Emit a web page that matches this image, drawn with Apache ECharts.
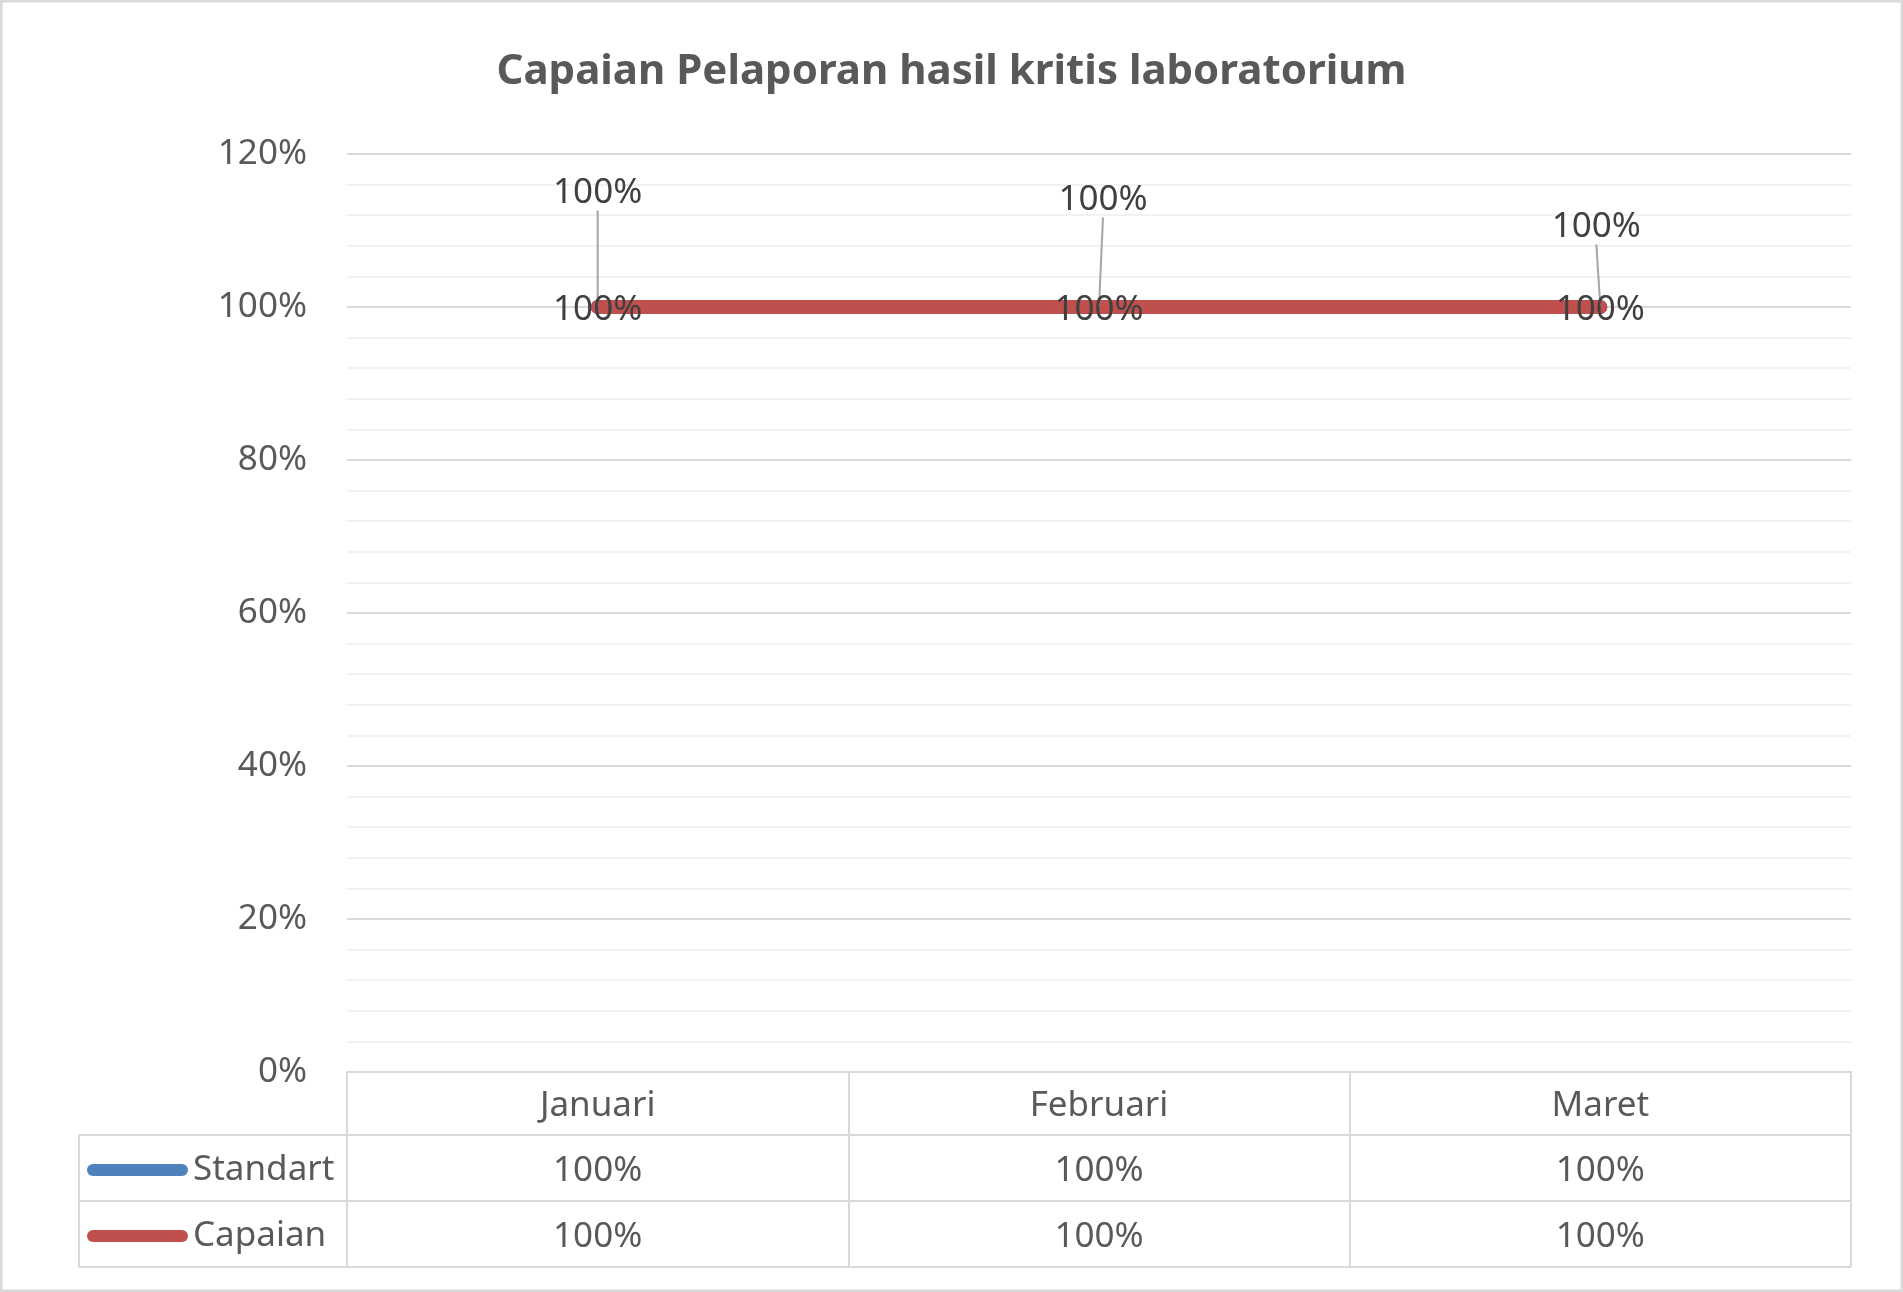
<!DOCTYPE html>
<html lang="en">
<head>
    <meta charset="UTF-8">
    <title>Capaian Pelaporan hasil kritis laboratorium</title>
    <style>
        html, body { margin: 0; padding: 0; background: #fff; }
        #chart { width: 1903px; height: 1292px; }
    </style>
    <script src="https://cdn.jsdelivr.net/npm/echarts/dist/echarts.min.js"></script>
</head>
<body>
    <div id="chart"></div>
    <script>
        var months = ['Januari', 'Februari', 'Maret'];
        var standart = [1, 1, 1];
        var capaian = [1, 1, 1];

        // offsets of the Standart labels (pulled up with a leader line)
        var labelDx = [0, 4, -4];
        var labelDy = [-114, -107, -80];

        function pct(v) { return Math.round(v * 100) + '%'; }

        var font = 'Noto Sans';
        var W = 1903, H = 1292;
        var gridLeft = 347, gridRight = 52, gridTop = 154, gridBottom = 220;
        var headH = 63, rowH = 66;
        var tableTop = H - gridBottom;
        var legLeft = 79;
        var gridEnd = W - gridRight;
        var lineCol = '#d9d9d9';

        function hline(x1, x2, y) {
            return { type: 'line', shape: { x1: x1, y1: y, x2: x2, y2: y }, style: { stroke: lineCol, lineWidth: 2 } };
        }

        var pill = 'path://M6,0 H95 A6,6 0 0 1 95,12 H6 A6,6 0 0 1 6,0 Z';

        var chart = echarts.init(document.getElementById('chart'));
        chart.setOption({
            animation: false,
            backgroundColor: '#fff',
            title: {
                text: 'Capaian Pelaporan hasil kritis laboratorium',
                left: 'center',
                top: 42,
                textStyle: { fontFamily: font, fontSize: 42, fontWeight: 'bold', color: '#595959', lineHeight: 50 }
            },
            legend: [
                {
                    left: 82, top: tableTop + headH + rowH / 2 - 23,
                    selectedMode: false,
                    itemWidth: 101, itemHeight: 12,
                    textStyle: { fontFamily: font, fontSize: 35, color: '#595959', lineHeight: 40 },
                    data: [{ name: 'Standart', icon: pill }]
                },
                {
                    left: 82, top: tableTop + headH + rowH * 1.5 - 23,
                    selectedMode: false,
                    itemWidth: 101, itemHeight: 12,
                    textStyle: { fontFamily: font, fontSize: 35, color: '#595959', lineHeight: 40 },
                    data: [{ name: 'Capaian', icon: pill }]
                }
            ],
            grid: { left: gridLeft, right: gridRight, top: gridTop, bottom: gridBottom },
            xAxis: [
                {
                    type: 'category',
                    data: months,
                    boundaryGap: true,
                    axisLine: { lineStyle: { color: lineCol, width: 2 } },
                    axisTick: { show: true, interval: 0, length: headH + rowH * 2, lineStyle: { color: lineCol, width: 2 } },
                    axisLabel: { fontFamily: font, fontSize: 35, color: '#595959', margin: 17 }
                },
                {
                    type: 'category',
                    data: months,
                    position: 'bottom',
                    offset: headH,
                    axisLine: { lineStyle: { color: lineCol, width: 2 } },
                    axisTick: { show: false },
                    axisLabel: {
                        fontFamily: font, fontSize: 35, color: '#595959', margin: 19,
                        formatter: function (v, i) { return pct(standart[i]); }
                    }
                },
                {
                    type: 'category',
                    data: months,
                    position: 'bottom',
                    offset: headH + rowH,
                    axisLine: { lineStyle: { color: lineCol, width: 2 } },
                    axisTick: { show: false },
                    axisLabel: {
                        fontFamily: font, fontSize: 35, color: '#595959', margin: 19,
                        formatter: function (v, i) { return pct(capaian[i]); }
                    }
                }
            ],
            yAxis: {
                type: 'value',
                min: 0,
                max: 1.2,
                interval: 0.2,
                axisLine: { show: false },
                axisTick: { show: false },
                axisLabel: { fontFamily: font, fontSize: 35, color: '#595959', margin: 40, formatter: pct },
                splitLine: { lineStyle: { color: lineCol, width: 2 } },
                minorTick: { show: false, splitNumber: 5 },
                minorSplitLine: { show: true, lineStyle: { color: '#f2f2f2', width: 2 } }
            },
            series: [
                {
                    name: 'Standart',
                    type: 'line',
                    data: standart,
                    color: '#4F81BD',
                    symbol: 'circle',
                    symbolSize: 2,
                    lineStyle: { width: 14, cap: 'round', color: '#4F81BD' },
                    label: {
                        show: true, position: 'inside',
                        fontFamily: font, fontSize: 35, color: '#404040',
                        formatter: function (p) { return pct(p.value); }
                    },
                    labelLine: { show: true, lineStyle: { color: '#a6a6a6', width: 2 } },
                    labelLayout: function (p) {
                        return { dx: labelDx[p.dataIndex], dy: labelDy[p.dataIndex] };
                    }
                },
                {
                    name: 'Capaian',
                    type: 'line',
                    data: capaian,
                    color: '#C0504D',
                    symbol: 'circle',
                    symbolSize: 2,
                    lineStyle: { width: 14, cap: 'round', color: '#C0504D' },
                    label: {
                        show: true, position: 'inside', offset: [0, 3],
                        fontFamily: font, fontSize: 35, color: '#404040',
                        formatter: function (p) { return pct(p.value); }
                    }
                }
            ],
            graphic: [
                { type: 'rect', shape: { x: 1, y: 1, width: W - 2, height: H - 2 }, style: { fill: 'none', stroke: lineCol, lineWidth: 3 } },
                hline(legLeft, gridLeft, tableTop + headH),
                hline(legLeft, gridLeft, tableTop + headH + rowH),
                hline(legLeft, gridEnd, tableTop + headH + rowH * 2),
                { type: 'line', shape: { x1: legLeft, y1: tableTop + headH, x2: legLeft, y2: tableTop + headH + rowH * 2 }, style: { stroke: lineCol, lineWidth: 2 } }
            ]
        });
    </script>
</body>
</html>
